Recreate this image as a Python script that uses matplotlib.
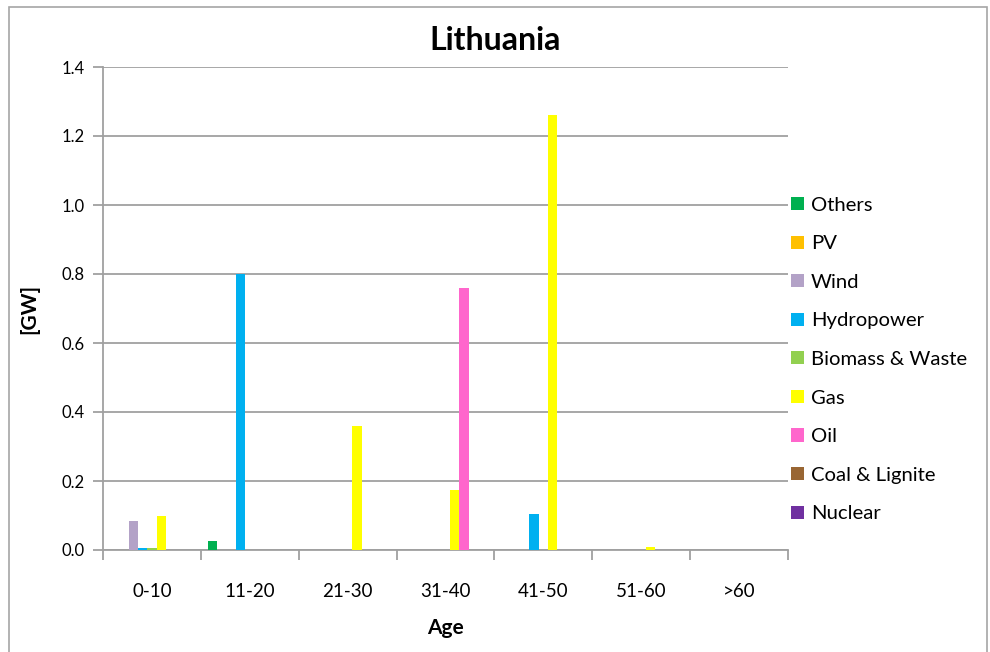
import matplotlib
matplotlib.use("Agg")
import matplotlib.pyplot as plt
import numpy as np
from matplotlib.patches import Rectangle, Patch

plt.rcParams['font.family'] = ['Lato', 'DejaVu Sans']

age_groups = ["0-10", "11-20", "21-30", "31-40", "41-50", "51-60", ">60"]
series_names = ["Others", "PV", "Wind", "Hydropower", "Biomass & Waste",
                "Gas", "Oil", "Coal & Lignite", "Nuclear"]
series_colors = ["#00B050", "#FFC000", "#B3A2C7", "#00B0F0", "#92D050",
                 "#FFFF00", "#FF66CC", "#996633", "#7030A0"]

others  = [0.0,   0.027, 0.0,  0.0,   0.0,   0.0,   0.0]
pv      = [0.0,   0.0,   0.0,  0.0,   0.0,   0.0,   0.0]
wind    = [0.084, 0.0,   0.0,  0.0,   0.0,   0.0,   0.0]
hydro   = [0.007, 0.80,  0.0,  0.0,   0.104, 0.0,   0.0]
biomass = [0.006, 0.0,   0.0,  0.0,   0.0,   0.0,   0.0]
gas     = [0.099, 0.0,   0.36, 0.174, 1.26,  0.009, 0.0]
oil     = [0.0,   0.0,   0.0,  0.76,  0.0,   0.0,   0.0]
coal    = [0.0,   0.0,   0.0,  0.0,   0.0,   0.0,   0.0]
nuclear = [0.0,   0.0,   0.0,  0.0,   0.0,   0.0,   0.0]
series_values = [others, pv, wind, hydro, biomass, gas, oil, coal, nuclear]

y_ticks = [0.0, 0.2, 0.4, 0.6, 0.8, 1.0, 1.2, 1.4]

fig = plt.figure(figsize=(9.9, 6.52), dpi=100)
fig.patch.set_facecolor("white")
ax = fig.add_axes([103/990, 1 - 550/652, (788 - 103)/990, (550 - 67)/652])

grid_c = "#A0A0A0"
n = len(series_names)
bar_w = 1 / (n + 1.5)
x = np.arange(len(age_groups))
for i, (vals, col) in enumerate(zip(series_values, series_colors)):
    ax.bar(x + (i - (n - 1) / 2) * bar_w, vals, width=bar_w, color=col,
           linewidth=0, zorder=3)

ax.set_xlim(-0.5, len(age_groups) - 0.5)
ax.set_ylim(0, 1.4)
ax.set_yticks(y_ticks)
ax.set_yticklabels([f"{v:.1f}" for v in y_ticks], fontsize=12)
ax.yaxis.grid(True, color=grid_c, linewidth=1.3, zorder=0)
ax.set_axisbelow(True)

ax.set_xticks(x)
ax.set_xticklabels(age_groups, fontsize=13.5)
ax.tick_params(axis="x", length=0, pad=24)
ax.set_xticks(np.arange(len(age_groups) + 1) - 0.5, minor=True)
ax.tick_params(axis="x", which="minor", length=7, width=1.3, color=grid_c)
ax.tick_params(axis="y", length=7, width=1.3, color=grid_c, pad=6)

for s in ["top", "right"]:
    ax.spines[s].set_visible(False)
for s in ["left", "bottom"]:
    ax.spines[s].set_color(grid_c)
    ax.spines[s].set_linewidth(1.3)

ax.set_xlabel("Age", fontsize=15, fontweight="bold", labelpad=13)
ax.set_ylabel("[GW]", fontsize=15, fontweight="bold", labelpad=16)
fig.text(0.5, 1 - 41/652, "Lithuania", ha="center", va="center",
         fontsize=23, fontweight="bold")

handles = [Patch(facecolor=c, edgecolor="none") for c in series_colors]
fig.legend(handles, series_names, loc="center left",
           bbox_to_anchor=(783/990, 1 - 359.5/652), frameon=False,
           fontsize=14.6, handlelength=0.62, handleheight=0.62,
           handletextpad=0.35, labelspacing=1.065, borderaxespad=0)

fig.patches.append(Rectangle((9/990, -0.05), (987 - 9)/990, 1.05 - 7/652,
                             transform=fig.transFigure, fill=False,
                             edgecolor="#A6A6A6", linewidth=1.2))

fig.savefig("out.png", dpi=100)
